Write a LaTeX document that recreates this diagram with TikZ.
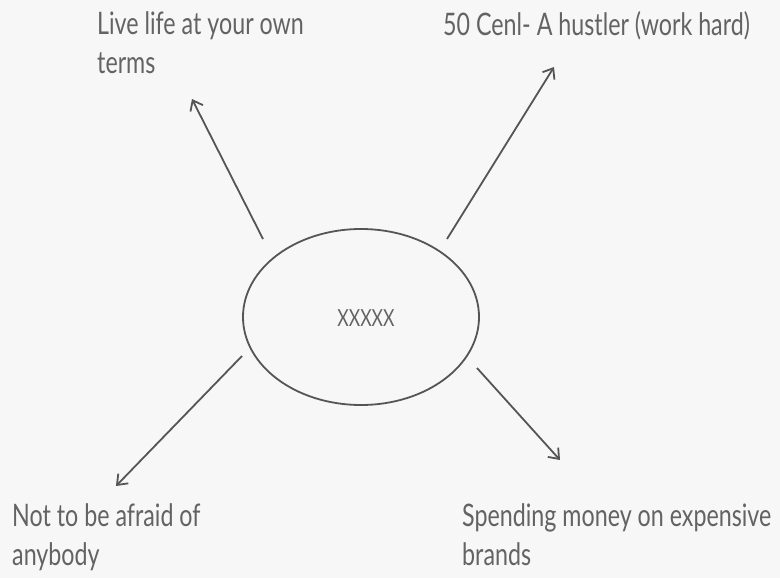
\documentclass[tikz,border=0pt]{standalone}
\usepackage{fontspec}
\setmainfont{Lato}[FakeStretch=0.75]
\usetikzlibrary{arrows.meta}
\definecolor{bgc}{HTML}{F7F7F7}
\definecolor{inkc}{HTML}{555555}
\definecolor{txtc}{HTML}{636363}
\tikzset{
  lbl/.style={anchor=north west,align=left,inner sep=0pt,text=txtc,font=\fontsize{31}{39}\selectfont},
  arr/.style={line width=1.8pt,draw=inkc,-{Straight Barb[length=9pt,width=14pt,line width=1.8pt]}}
}
\begin{document}
\begin{tikzpicture}[x=1pt,y=-1pt]
\fill[bgc] (0,0) rectangle (780,578);
\useasboundingbox (0,0) rectangle (780,578);

% centre
\draw[line width=1.8pt,inkc] (361,317) ellipse[x radius=118,y radius=88];
\node[text=txtc,inner sep=0pt,font=\fontsize{23.5}{26}\selectfont] (mid) at (366,318) {XXXXX};

% four labels
\node[lbl] (life) at (97,11) {Live life at your own\\terms};
\node[lbl] (cent) at (443,11) {50 Cenl- A hustler (work hard)};
\node[lbl] (fear) at (12,503) {Not to be afraid of\\anybody};
\node[lbl] (brand) at (462,503) {Spending money on expensive\\brands};

\coordinate (lifeS) at (263,239);  \coordinate (lifeE) at (192,99);
\coordinate (centS) at (447,239);  \coordinate (centE) at (554,67);
\coordinate (fearS) at (242,356);  \coordinate (fearE) at (116,486);
\coordinate (brandS) at (477,368); \coordinate (brandE) at (560,460);

\draw[arr] (lifeS) -- (lifeE);
\draw[arr] (centS) -- (centE);
\draw[arr] (fearS) -- (fearE);
\draw[arr] (brandS) -- (brandE);
\end{tikzpicture}
\end{document}
